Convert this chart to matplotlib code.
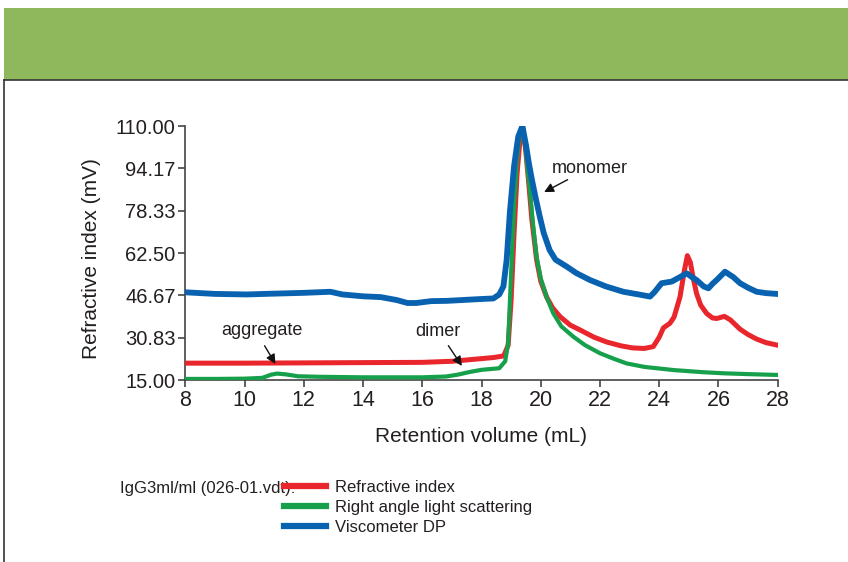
import matplotlib
matplotlib.use('Agg')
import matplotlib.pyplot as plt
from matplotlib.patches import Rectangle
from matplotlib.lines import Line2D

plt.rcParams['font.family'] = ['Liberation Sans', 'DejaVu Sans']

# Refractive index trace
ri_x = [8.0, 10.0, 12.0, 14.0, 16.0, 17.0, 17.8, 18.4, 18.75, 18.9, 19.0, 19.1, 19.2, 19.3,
        19.4, 19.5, 19.6, 19.7, 19.86, 20.0, 20.2, 20.4, 20.65, 21.0, 21.33, 21.8, 22.23,
        22.7, 23.1, 23.5, 23.8, 24.0, 24.14, 24.36, 24.5, 24.7, 24.85, 24.95, 25.05, 25.15,
        25.26, 25.4, 25.6, 25.8, 25.94, 26.2, 26.4, 26.73, 27.0, 27.29, 27.6, 27.96]
ri_y = [21.3, 21.3, 21.4, 21.5, 21.6, 22.0, 22.8, 23.4, 24.0, 28.0, 45.0, 70.0, 92.0, 105.0,
        109.0, 100.0, 88.0, 75.0, 60.0, 52.0, 46.0, 42.0, 38.7, 35.5, 33.7, 31.0, 29.2,
        27.8, 27.0, 26.8, 27.5, 31.0, 34.5, 36.2, 38.5, 46.0, 56.0, 61.5, 59.0, 53.0,
        47.4, 43.0, 39.9, 38.2, 38.0, 38.8, 37.5, 34.0, 32.0, 30.3, 29.0, 28.1]

# Right angle light scattering trace
ls_x = [8.0, 9.0, 10.0, 10.6, 10.9, 11.1, 11.4, 11.8, 12.5, 14.0, 15.0, 16.0, 16.8, 17.2,
        17.6, 18.0, 18.6, 18.8, 18.9, 19.0, 19.1, 19.2, 19.3, 19.4, 19.5, 19.64, 19.75,
        19.86, 20.0, 20.2, 20.42, 20.7, 21.1, 21.5, 22.0, 22.5, 22.9, 23.5, 24.5, 25.5,
        26.2, 27.0, 27.96]
ls_y = [15.4, 15.4, 15.5, 15.8, 17.0, 17.4, 17.1, 16.4, 16.2, 16.0, 16.0, 16.0, 16.3, 17.0,
        18.0, 18.8, 19.4, 22.0, 28.8, 55.0, 80.0, 98.0, 107.0, 110.0, 100.0, 85.0, 72.0,
        61.0, 53.0, 46.0, 40.0, 35.0, 31.2, 28.0, 25.0, 22.8, 21.2, 19.9, 18.7, 17.9,
        17.5, 17.2, 16.9]

# Viscometer DP trace
dp_x = [8.0, 8.5, 9.0, 10.07, 11.0, 12.0, 12.9, 13.3, 14.0, 14.6, 15.14, 15.5, 15.8, 16.3,
        16.83, 17.5, 18.0, 18.4, 18.6, 18.74, 18.85, 18.96, 19.1, 19.24, 19.38, 19.5, 19.6,
        19.7, 19.83, 19.97, 20.1, 20.3, 20.5, 20.88, 21.2, 21.66, 22.2, 22.79, 23.3, 23.69,
        23.85, 24.08, 24.42, 24.7, 24.93, 25.1, 25.26, 25.5, 25.66, 25.8, 25.94, 26.22,
        26.5, 26.73, 27.0, 27.29, 27.6, 27.96]
dp_y = [47.8, 47.5, 47.2, 47.0, 47.3, 47.6, 48.0, 47.0, 46.3, 46.0, 44.9, 43.8, 43.8, 44.5,
        44.6, 45.0, 45.3, 45.5, 47.0, 50.0, 60.0, 78.0, 95.0, 106.0, 110.0, 103.0, 96.0,
        90.0, 83.0, 76.0, 70.0, 63.6, 60.0, 57.4, 55.0, 52.4, 50.0, 48.0, 47.0, 46.2,
        48.0, 51.2, 51.8, 53.5, 54.9, 53.5, 52.4, 50.0, 49.3, 51.0, 52.4, 55.5,
        53.5, 51.2, 49.5, 48.0, 47.5, 47.2]

y_ticks = [15.00, 30.83, 46.67, 62.50, 78.33, 94.17, 110.00]
y_labels = ['15.00', '30.83', '46.67', '62.50', '78.33', '94.17', '110.00']
x_ticks = [8, 10, 12, 14, 16, 18, 20, 22, 24, 26, 28]

series_names = ['Refractive index', 'Right angle light scattering', 'Viscometer DP']
series_colors = ['#e8262b', '#17a04b', '#0862b0']

text_col = '#231f20'
W, H = 848, 562

fig = plt.figure(figsize=(W / 100, H / 100), dpi=100)

# green header band and the frame of the white panel
fig.patches.append(Rectangle((4 / W, 1 - 80 / H), 1, 72 / H, transform=fig.transFigure,
                             facecolor='#8fb85d', edgecolor='none', zorder=0))
fig.add_artist(Line2D([4 / W, 1], [1 - 80 / H, 1 - 80 / H], color='#333333', lw=1.2))
fig.add_artist(Line2D([4 / W, 4 / W], [0, 1 - 80 / H], color='#333333', lw=1.2))

ax = fig.add_axes([185.3 / W, 1 - 380 / H, (777.7 - 185.3) / W, (380 - 126) / H])

ax.plot(ri_x, ri_y, color=series_colors[0], lw=3.6, label=series_names[0], zorder=3)
ax.plot(ls_x, ls_y, color=series_colors[1], lw=3.0, label=series_names[1], zorder=4)
ax.plot(dp_x, dp_y, color=series_colors[2], lw=4.2, label=series_names[2], zorder=5)

ax.set_xlim(8, 28)
ax.set_ylim(15, 110)
ax.set_xticks(x_ticks)
ax.set_yticks(y_ticks)
ax.set_yticklabels(y_labels)
for side in ['top', 'right']:
    ax.spines[side].set_visible(False)
for side in ['left', 'bottom']:
    ax.spines[side].set_color('#444444')
    ax.spines[side].set_linewidth(1.2)
ax.tick_params(direction='out', length=5, width=1.2, color='#444444',
               labelcolor=text_col, pad=2)
ax.tick_params(axis='y', labelsize=14.5)
ax.tick_params(axis='x', labelsize=15.5)

ax.text(0.499, -0.224, 'Retention volume (mL)', transform=ax.transAxes, fontsize=15,
        color=text_col, ha='center', va='center')
ax.text(-0.1575, 0.48, 'Refractive index (mV)', transform=ax.transAxes, fontsize=15,
        color=text_col, ha='center', va='center', rotation=90)

# peak annotations
arrow = dict(arrowstyle='-|>', color='#111111', lw=1.0, mutation_scale=14)
ax.annotate('', xy=(11.09, 20.1), xytext=(10.63, 28.7), arrowprops=arrow, zorder=6)
ax.text(10.58, 33.7, 'aggregate', fontsize=13, color=text_col, ha='center', va='center')
ax.annotate('', xy=(17.39, 19.4), xytext=(16.83, 28.7), arrowprops=arrow, zorder=6)
ax.text(16.54, 33.1, 'dimer', fontsize=13, color=text_col, ha='center', va='center')
ax.annotate('', xy=(20.03, 84.8), xytext=(20.99, 90.4), arrowprops=arrow, zorder=6)
ax.text(21.66, 94.2, 'monomer', fontsize=13, color=text_col, ha='center', va='center')

# legend block
fig.text(120 / W, 1 - 488 / H, 'IgG3ml/ml (026-01.vdt):', fontsize=12, color=text_col,
         ha='left', va='center')
handles = [Line2D([], [], color=c, lw=4.5) for c in series_colors]
fig.legend(handles, series_names, loc='upper left', bbox_to_anchor=(284 / W, 1 - 480 / H),
           frameon=False, fontsize=12, handlelength=2.5, handletextpad=0.58,
           labelspacing=0.3, borderpad=0, borderaxespad=0, labelcolor=text_col)

fig.savefig('out.png', dpi=100)
